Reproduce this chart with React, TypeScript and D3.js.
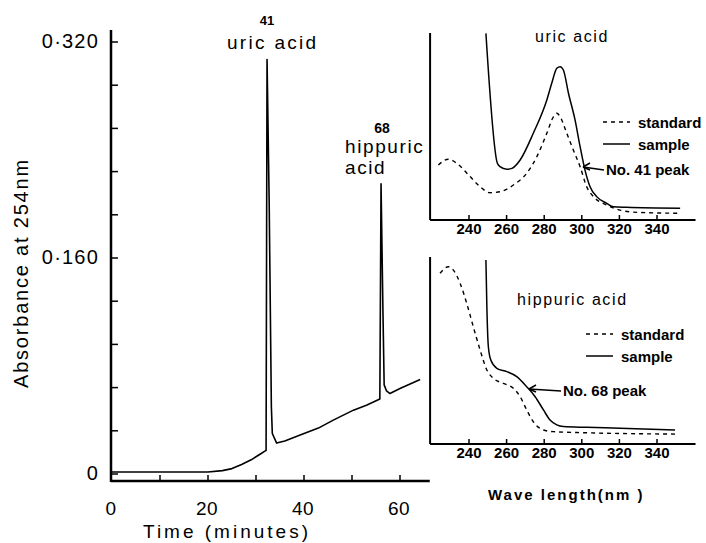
import React from "react";
import * as d3 from "d3";

// ---- Main chromatogram ----
const timeMin = [0, 10, 20, 23, 25, 27, 29, 31, 32.1, 32.3, 32.75, 33.2, 33.4, 34.3, 36, 39.2, 43, 46.1, 50.3, 53, 55.8, 56.05, 56.45, 56.7, 57.2, 57.9, 60, 64.2];
const absorbance = [0.0015, 0.0015, 0.0015, 0.0025, 0.004, 0.007, 0.0105, 0.015, 0.0175, 0.307, 0.2, 0.05, 0.03, 0.0229, 0.0245, 0.0288, 0.034, 0.0399, 0.0473, 0.051, 0.0555, 0.215, 0.12, 0.066, 0.0615, 0.0596, 0.0633, 0.07];
const xTicks = [0, 10, 20, 30, 40, 50, 60];
const xTickLabels = ["0", "20", "40", "60"];
const xTickLabelValues = [0, 20, 40, 60];
const yMajor = [0, 0.16, 0.32];
const yMajorLabels = ["0", "0·160", "0·320"];
const yMinor = [0.032, 0.064, 0.096, 0.128, 0.192, 0.224, 0.256, 0.288];
const peakNumbers = ["41", "68"];

// ---- Insets (relative absorbance) ----
const wlTicks = [240, 260, 280, 300, 320, 340];
const uricStdWl = [223.7, 229.0, 233.5, 240.6, 245.9, 251.2, 256.5, 263.6, 270.7, 276.1, 281.4, 284.9, 286.7, 288.5, 292.0, 295.5, 299.1, 302.6, 306.2, 313.3, 320.4, 329.3, 352.3];
const uricStdAbs = [0.294, 0.325, 0.303, 0.232, 0.178, 0.146, 0.151, 0.187, 0.25, 0.339, 0.464, 0.552, 0.571, 0.552, 0.464, 0.374, 0.285, 0.178, 0.125, 0.08, 0.053, 0.041, 0.036];
const uricSmpWl = [249.0, 255.1, 256.5, 260.1, 262.8, 267.2, 274.2, 281.4, 284.0, 286.7, 288.5, 290.2, 292.9, 296.4, 299.1, 301.7, 304.4, 307.9, 313.3, 316.8, 323.9, 352.3];
const uricSmpAbs = [0.998, 0.303, 0.285, 0.271, 0.276, 0.321, 0.464, 0.642, 0.731, 0.811, 0.82, 0.802, 0.678, 0.535, 0.392, 0.267, 0.178, 0.125, 0.089, 0.071, 0.068, 0.063];
const hipStdWl = [224.6, 229.0, 231.7, 235.3, 238.8, 242.3, 245.9, 249.5, 253.0, 258.3, 263.6, 267.2, 270.7, 274.2, 279.6, 284.9, 302.6, 349.6];
const hipStdAbs = [0.913, 0.948, 0.93, 0.859, 0.752, 0.627, 0.503, 0.396, 0.351, 0.324, 0.298, 0.253, 0.182, 0.119, 0.075, 0.066, 0.06, 0.053];
const hipSmpWl = [249.0, 249.5, 250.3, 251.6, 254.8, 260.1, 265.4, 270.7, 275.2, 279.6, 283.1, 286.7, 290.2, 302.6, 320.4, 349.6];
const hipSmpAbs = [0.984, 0.734, 0.52, 0.449, 0.405, 0.387, 0.36, 0.306, 0.253, 0.182, 0.128, 0.102, 0.093, 0.089, 0.084, 0.075];

const FONT = "'Liberation Sans', Arial, sans-serif";

type Pt = [number, number];
const zip = (a: number[], b: number[]): Pt[] => a.map((v, i) => [v, b[i]]);

function Inset({
  top, stdWl, stdAbs, smpWl, smpAbs, title, titleX, titleY, legendX, legendY, peakLabel, arrow, showXLabel,
}: any) {
  const x = d3.scaleLinear().domain([240, 340]).range([469, 657]);
  const y = d3.scaleLinear().domain([0, 1]).range([top + 187, top]);
  const axisY = top + 187;
  const line = d3.line<Pt>().x((d) => x(d[0])).y((d) => y(d[1])).curve(d3.curveMonotoneX);
  return (
    <g>
      <line x1={x(219.3)} x2={x(219.3)} y1={top} y2={axisY} stroke="#000" strokeWidth={2} />
      <line x1={x(219.3)} x2={x(360.5)} y1={axisY} y2={axisY} stroke="#000" strokeWidth={2} />
      {wlTicks.map((t) => (
        <g key={t}>
          <line x1={x(t)} x2={x(t)} y1={axisY} y2={axisY - 5} stroke="#000" strokeWidth={1.5} />
          <text x={x(t)} y={axisY + 13.5} textAnchor="middle" fontSize={15} fontWeight="bold" fontFamily={FONT}>{t}</text>
        </g>
      ))}
      <path d={line(zip(stdWl, stdAbs)) || ""} fill="none" stroke="#000" strokeWidth={1.4} strokeDasharray="4,4" />
      <path d={line(zip(smpWl, smpAbs)) || ""} fill="none" stroke="#000" strokeWidth={1.5} />
      <text x={titleX} y={titleY} fontSize={16} letterSpacing={1.6} fontFamily={FONT}>{title}</text>
      <line x1={legendX} x2={legendX + 27} y1={legendY} y2={legendY} stroke="#000" strokeWidth={1.5} strokeDasharray="4,4" />
      <text x={legendX + 35} y={legendY + 5.5} fontSize={15} fontWeight="bold" fontFamily={FONT}>standard</text>
      <line x1={legendX} x2={legendX + 27} y1={legendY + 22} y2={legendY + 22} stroke="#000" strokeWidth={1.5} />
      <text x={legendX + 35} y={legendY + 27.5} fontSize={15} fontWeight="bold" fontFamily={FONT}>sample</text>
      <line x1={arrow[0]} x2={arrow[2]} y1={arrow[1]} y2={arrow[3]} stroke="#000" strokeWidth={1.5} />
      <path d={`M${arrow[2]},${arrow[3]} l7,-4 M${arrow[2]},${arrow[3]} l7,3`} stroke="#000" strokeWidth={1.5} fill="none" />
      <text x={arrow[0] + 2} y={arrow[1] + 5} fontSize={15} fontWeight="bold" fontFamily={FONT}>{peakLabel}</text>
      {showXLabel && (
        <text x={488} y={500} fontSize={15} fontWeight="bold" letterSpacing={2} fontFamily={FONT}>Wave length(nm )</text>
      )}
    </g>
  );
}

export default function App() {
  const x = d3.scaleLinear().domain([0, 60]).range([112, 400]);
  const y = d3.scaleLinear().domain([0, 0.32]).range([474, 42]);
  const line = d3.line<Pt>().x((d) => x(d[0])).y((d) => y(d[1]));
  const axisX = 111;
  const axisBottom = 481;
  return (
    <svg width={706} height={543} style={{ position: "absolute", left: 0, top: 0, background: "#fff" }}>
      <rect width={706} height={543} fill="#fff" />
      {/* main axes */}
      <line x1={axisX} x2={axisX} y1={30} y2={axisBottom + 1} stroke="#000" strokeWidth={2.5} />
      <line x1={axisX} x2={x(66.2)} y1={axisBottom} y2={axisBottom} stroke="#000" strokeWidth={2.5} />
      {yMajor.concat(yMinor).map((v) => (
        <line key={v} x1={axisX} x2={axisX + 7} y1={y(v)} y2={y(v)} stroke="#000" strokeWidth={1.5} />
      ))}
      {yMajor.map((v, i) => (
        <text key={v} x={99} y={y(v) + 6} textAnchor="end" fontSize={20} letterSpacing={1.2} fontFamily={FONT}>{yMajorLabels[i]}</text>
      ))}
      {xTicks.slice(1).map((t) => (
        <line key={t} x1={x(t)} x2={x(t)} y1={axisBottom} y2={axisBottom - 6} stroke="#000" strokeWidth={1.5} />
      ))}
      {xTickLabelValues.map((t, i) => (
        <text key={t} x={x(t) - 1} y={515} textAnchor="middle" fontSize={19} letterSpacing={0.5} fontFamily={FONT}>{xTickLabels[i]}</text>
      ))}
      <text x={143} y={538} fontSize={19} letterSpacing={3} fontFamily={FONT}>Time (minutes)</text>
      <text transform="translate(28,388) rotate(-90)" fontSize={20} letterSpacing={1.8} fontFamily={FONT}>Absorbance  at  254nm</text>
      {/* trace */}
      <path d={line(zip(timeMin, absorbance)) || ""} fill="none" stroke="#000" strokeWidth={1.6} strokeLinejoin="round" />
      {/* peak labels */}
      <text x={267} y={25} textAnchor="middle" fontSize={13} fontWeight="bold" fontFamily={FONT}>{peakNumbers[0]}</text>
      <text x={227} y={49} fontSize={19} letterSpacing={2.3} fontFamily={FONT}>uric acid</text>
      <text x={382} y={133} textAnchor="middle" fontSize={14} fontWeight="bold" fontFamily={FONT}>{peakNumbers[1]}</text>
      <text x={345} y={153} fontSize={19} letterSpacing={1.6} fontFamily={FONT}>hippuric</text>
      <text x={345} y={174} fontSize={19} letterSpacing={1.6} fontFamily={FONT}>acid</text>
      {/* insets */}
      <Inset top={33} stdWl={uricStdWl} stdAbs={uricStdAbs} smpWl={uricSmpWl} smpAbs={uricSmpAbs}
        title="uric acid" titleX={535} titleY={42} legendX={603} legendY={122}
        peakLabel="No. 41 peak" arrow={[604, 170, 583, 167]} showXLabel={false} />
      <Inset top={257} stdWl={hipStdWl} stdAbs={hipStdAbs} smpWl={hipSmpWl} smpAbs={hipSmpAbs}
        title="hippuric acid" titleX={517} titleY={305} legendX={586} legendY={334}
        peakLabel="No. 68 peak" arrow={[561, 391, 529, 389]} showXLabel={true} />
    </svg>
  );
}
